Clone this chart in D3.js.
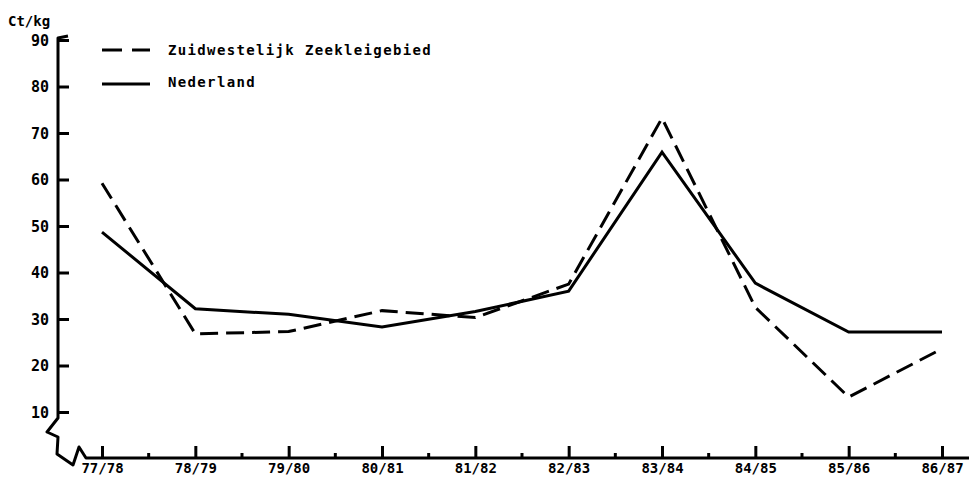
<html>
<head>
    <title>Ct/kg</title>
    <style>
        body { margin: 0; background: #fff; }
        text { font-family: "DejaVu Sans Mono", monospace; font-weight: bold; fill: #000; }
    </style>
</head>
<body>
    <script src="https://cdnjs.cloudflare.com/ajax/libs/d3/7.8.5/d3.min.js"></script>
    <script>
        // seasons (x categories)
        var seasons = ["77/78", "78/79", "79/80", "80/81", "81/82", "82/83", "83/84", "84/85", "85/86", "86/87"];
        // price in ct/kg
        var zuidwest = [59.2, 26.8, 27.3, 31.8, 30.3, 37.5, 73.2, 32.5, 13.2, 23.6];
        var nederland = [48.7, 32.2, 31.0, 28.3, 31.6, 36.0, 65.9, 37.7, 27.2, 27.2];
        var yTicks = [10, 20, 30, 40, 50, 60, 70, 80, 90];
        var seriesNames = ["Zuidwestelijk Zeekleigebied", "Nederland"];

        var width = 969, height = 478;
        var svg = d3.select("body").append("svg").attr("width", width).attr("height", height);

        var x = d3.scalePoint().domain(seasons).range([102, 942]);
        var y = d3.scaleLinear().domain([10, 90]).range([412, 40]);
        var axisX = 58, axisY = 458;

        // y axis (ticks point inward, labels on the left)
        var gy = svg.append("g").attr("transform", "translate(" + axisX + ",0)")
            .call(d3.axisLeft(y).tickValues(yTicks).tickSize(-11).tickPadding(9));
        gy.select(".domain").remove();
        gy.selectAll(".tick line").attr("stroke", "#000").attr("stroke-width", 3);
        gy.selectAll(".tick text").style("font-size", "15px").attr("dy", "0.36em");

        // x axis (ticks point upward, labels below)
        var gx = svg.append("g").attr("transform", "translate(0," + axisY + ")")
            .call(d3.axisBottom(x).tickSize(-12).tickPadding(5));
        gx.select(".domain").remove();
        gx.selectAll(".tick line").attr("stroke", "#000").attr("stroke-width", 3);
        gx.selectAll(".tick text").style("font-size", "14px").attr("dy", "0.72em");

        // minor ticks halfway between seasons
        var mids = d3.pairs(seasons).map(p => (x(p[0]) + x(p[1])) / 2);
        svg.append("g").selectAll("line").data(mids).enter().append("line")
            .attr("x1", d => d).attr("x2", d => d)
            .attr("y1", axisY).attr("y2", axisY - 5)
            .attr("stroke", "#000").attr("stroke-width", 3);

        // axis lines with the broken corner
        var yTop = y(90) - 2, yb = y(10) + 6;
        var axisPath = [[axisX + 10, yTop - 2], [axisX, yTop], [axisX, yb], [axisX - 11, yb + 14], [axisX, yb + 19],
            [axisX - 1, axisY - 4], [axisX + 15, axisY + 7], [axisX + 21, axisY - 11], [axisX + 28, axisY],
            [width, axisY]];
        svg.append("path").attr("d", d3.line()(axisPath))
            .attr("fill", "none").attr("stroke", "#000").attr("stroke-width", 3).attr("stroke-linejoin", "round");

        // series lines
        var line = d3.line().x((d, i) => x(seasons[i])).y(d => y(d));
        svg.append("path").datum(nederland).attr("d", line)
            .attr("fill", "none").attr("stroke", "#000").attr("stroke-width", 3);
        svg.append("path").datum(zuidwest).attr("d", line)
            .attr("fill", "none").attr("stroke", "#000").attr("stroke-width", 3)
            .attr("stroke-dasharray", "18,8");

        // unit label
        svg.append("text").text("Ct/kg").attr("x", 8).attr("y", 26).style("font-size", "14px");

        // legend
        var leg = svg.append("g");
        leg.append("line").attr("x1", 102).attr("x2", 150).attr("y1", 50).attr("y2", 50)
            .attr("stroke", "#000").attr("stroke-width", 3).attr("stroke-dasharray", "20,10");
        leg.append("line").attr("x1", 102).attr("x2", 150).attr("y1", 84).attr("y2", 84)
            .attr("stroke", "#000").attr("stroke-width", 3);
        leg.selectAll("text").data(seriesNames).enter().append("text")
            .text(d => d)
            .attr("x", 168)
            .attr("y", (d, i) => 55 + i * 32)
            .style("font-size", "14px")
            .style("letter-spacing", "1.35px");
    </script>
</body>
</html>
